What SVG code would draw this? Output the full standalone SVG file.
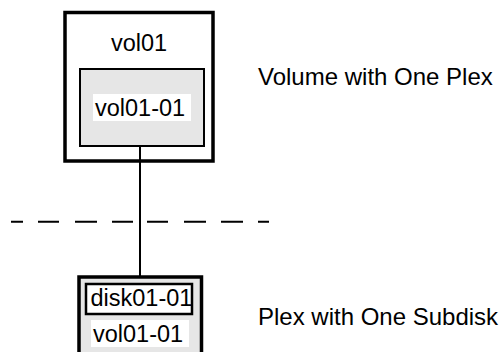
<svg xmlns="http://www.w3.org/2000/svg" width="504" height="352" viewBox="0 0 504 352">
  <style>
    .txt { font-family: "Liberation Sans", Arial, Helvetica, sans-serif; fill: #000; }
    .lbl { font-size: 23.5px; }
    .side { font-size: 24px; }
    .thick { fill: #fff; stroke: #000; stroke-width: 3.5; }
    .plex { fill: #e6e6e6; stroke: #000; stroke-width: 2; }
    .plexthick { fill: #e6e6e6; stroke: #000; stroke-width: 3.5; }
    .sd { fill: #fff; stroke: #000; stroke-width: 2.5; }
    .bg { fill: #fff; stroke: none; }
    .line { stroke: #000; stroke-width: 2; fill: none; }
  </style>
  <rect width="504" height="352" fill="#fff"/>

  <g id="volume">
    <rect class="thick" x="65" y="12.5" width="148" height="148.5"/>
    <text class="txt lbl" x="139" y="50.5" text-anchor="middle">vol01</text>
    <g id="plex-top">
      <rect class="plex" x="80" y="69" width="124" height="77"/>
      <rect class="bg" x="93" y="94" width="98" height="27"/>
      <text class="txt lbl" x="95" y="116">vol01-01</text>
    </g>
  </g>

  <g id="plex-bottom">
    <rect class="plexthick" x="79" y="277" width="122.5" height="90"/>
    <g id="subdisk">
      <rect class="sd" x="86" y="284" width="106" height="30"/>
      <text class="txt lbl" x="90.5" y="305.5">disk01-01</text>
    </g>
    <rect class="bg" x="91" y="320" width="98" height="27"/>
    <text class="txt lbl" x="93" y="342">vol01-01</text>
  </g>

  <g id="connectors">
    <line class="line" x1="140" y1="146" x2="140" y2="277"/>
  </g>

  <path class="line" d="M11 221.7H23M38 221.7H59M75 221.7H97M112 221.7H133M147 221.7H168M184 221.7H206M221 221.7H243M258 221.7H269"/>

  <text class="txt side" x="258" y="85">Volume with One Plex</text>
  <text class="txt side" x="258" y="325">Plex with One Subdisk</text>
</svg>
